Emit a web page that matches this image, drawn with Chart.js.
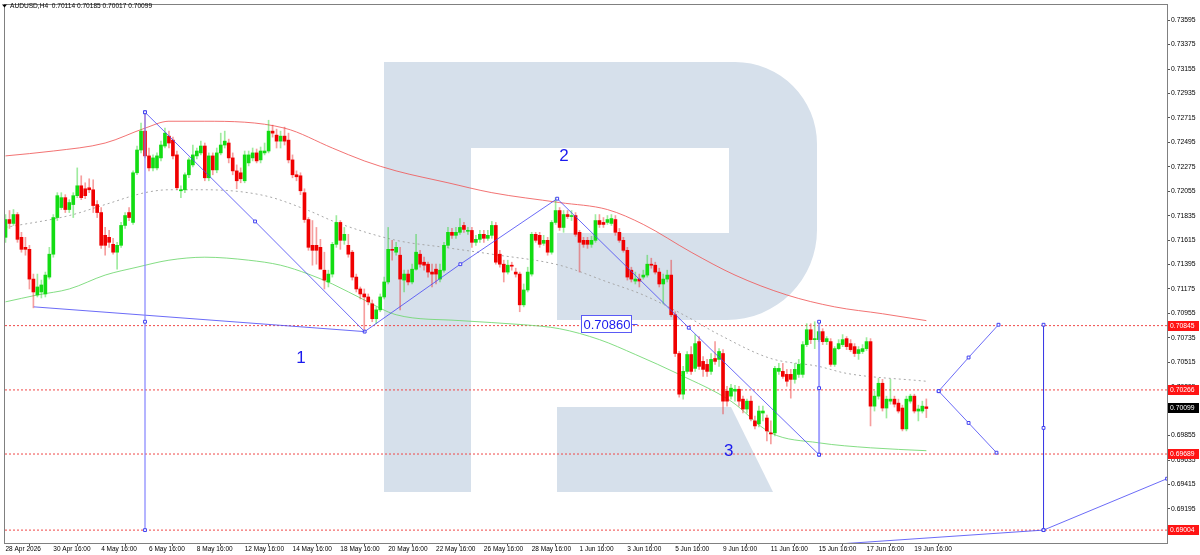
<!DOCTYPE html>
<html>
<head>
<meta charset="utf-8">
<script src="https://cdn.jsdelivr.net/npm/chart.js@4.4.1/dist/chart.umd.min.js"></script>
<style>
html,body{margin:0;padding:0;background:#fff;overflow:hidden}
canvas{display:block}
</style>
</head>
<body>
<canvas id="chart" width="1200" height="555"></canvas>
<script>
// AUDUSD H4, one entry per bar (bar 0 = 28 Apr 2026)
var candleO = [
0.71640,0.71800,0.71765,0.71845,0.71640,0.71550,0.71532,0.71264,0.71121,0.71148,
0.71130,0.71282,0.71488,0.71818,0.71908,0.71997,0.71890,0.71935,0.72015,0.72104,
0.72077,0.72086,0.72068,0.71935,0.71863,0.71658,0.71640,0.71577,0.71506,0.71568,
0.71747,0.71863,0.71774,0.72221,0.72426,0.72596,0.72373,0.72265,0.72265,0.72355,
0.72462,0.72551,0.72515,0.72382,0.72059,0.72068,0.72203,0.72292,0.72373,0.72400,
0.72462,0.72176,0.72373,0.72247,0.72400,0.72471,0.72489,0.72355,0.72238,0.72221,
0.72149,0.72310,0.72355,0.72400,0.72337,0.72400,0.72417,0.72596,0.72560,0.72506,
0.72551,0.72515,0.72337,0.72203,0.72194,0.72042,0.71800,0.71568,0.71568,0.71550,
0.71344,0.71238,0.71309,0.71577,0.71774,0.71613,0.71568,0.71506,0.71282,0.71175,
0.71130,0.71103,0.71041,0.70907,0.70987,0.71103,0.71238,0.71532,0.71506,0.71479,
0.71255,0.71309,0.71238,0.71353,0.71488,0.71416,0.71398,0.71327,0.71353,0.71264,
0.71344,0.71568,0.71685,0.71658,0.71685,0.71747,0.71694,0.71702,0.71595,0.71622,
0.71667,0.71631,0.71658,0.71747,0.71488,0.71398,0.71327,0.71389,0.71327,0.71309,
0.71032,0.71166,0.71309,0.71667,0.71658,0.71586,0.71613,0.71506,0.71774,0.71881,
0.71729,0.71845,0.71827,0.71836,0.71685,0.71613,0.71613,0.71577,0.71613,0.71791,
0.71774,0.71774,0.71765,0.71800,0.71685,0.71613,0.71523,0.71344,0.71246,0.71264,
0.71282,0.71300,0.71398,0.71389,0.71327,0.71220,0.71264,0.71300,0.70943,0.70594,
0.70228,0.70433,0.70585,0.70460,0.70701,0.70523,0.70496,0.70433,0.70549,0.70541,
0.70594,0.70255,0.70210,0.70255,0.70272,0.70183,0.70094,0.70165,0.69987,0.69960,
0.70058,0.70013,0.69879,0.69879,0.70433,0.70433,0.70406,0.70406,0.70361,0.70406,
0.70406,0.70674,0.70808,0.70719,0.70719,0.70791,0.70701,0.70701,0.70496,0.70638,
0.70674,0.70728,0.70683,0.70656,0.70594,0.70612,0.70638,0.70701,0.70120,0.70210,
0.70326,0.70103,0.70165,0.70183,0.70147,0.70103,0.69915,0.70165,0.70210,0.70076,
0.70076,0.70114
];
var candleH = [
0.71845,0.71881,0.71890,0.71863,0.71685,0.71640,0.71568,0.71309,0.71309,0.71255,
0.71327,0.71550,0.71845,0.72042,0.72042,0.72024,0.71979,0.72042,0.72265,0.72194,
0.72131,0.72167,0.72158,0.71970,0.71908,0.71729,0.71702,0.71631,0.71595,0.71774,
0.71863,0.71908,0.72238,0.72462,0.72668,0.72757,0.72444,0.72382,0.72400,0.72506,
0.72623,0.72596,0.72542,0.72417,0.72104,0.72221,0.72355,0.72471,0.72444,0.72506,
0.72489,0.72400,0.72400,0.72444,0.72578,0.72596,0.72524,0.72400,0.72292,0.72265,
0.72417,0.72417,0.72444,0.72435,0.72453,0.72489,0.72694,0.72650,0.72614,0.72596,
0.72632,0.72578,0.72382,0.72238,0.72221,0.72077,0.71818,0.71791,0.71729,0.71622,
0.71506,0.71344,0.71595,0.71836,0.71791,0.71729,0.71667,0.71523,0.71309,0.71193,
0.71175,0.71130,0.71076,0.71014,0.71130,0.71282,0.71729,0.71613,0.71595,0.71550,
0.71344,0.71344,0.71398,0.71667,0.71523,0.71461,0.71416,0.71398,0.71398,0.71398,
0.71595,0.71729,0.71720,0.71729,0.71809,0.71774,0.71729,0.71729,0.71658,0.71702,
0.71702,0.71702,0.71783,0.71774,0.71523,0.71434,0.71434,0.71416,0.71362,0.71327,
0.71220,0.71371,0.71685,0.71685,0.71685,0.71658,0.71640,0.71791,0.71997,0.71908,
0.71881,0.71881,0.71881,0.71863,0.71702,0.71640,0.71640,0.71649,0.71845,0.71845,
0.71818,0.71836,0.71845,0.71836,0.71720,0.71640,0.71550,0.71371,0.71327,0.71309,
0.71344,0.71479,0.71452,0.71416,0.71362,0.71309,0.71344,0.71434,0.70970,0.70612,
0.70478,0.70612,0.70656,0.70764,0.70746,0.70567,0.70541,0.70594,0.70701,0.70638,
0.70629,0.70299,0.70317,0.70308,0.70299,0.70210,0.70183,0.70210,0.70031,0.70120,
0.70120,0.70040,0.69987,0.70478,0.70505,0.70505,0.70451,0.70451,0.70505,0.70541,
0.70701,0.70862,0.70862,0.70880,0.70836,0.70817,0.70746,0.70728,0.70656,0.70719,
0.70764,0.70746,0.70719,0.70683,0.70656,0.70674,0.70737,0.70728,0.70255,0.70370,
0.70361,0.70210,0.70361,0.70210,0.70183,0.70129,0.70210,0.70228,0.70228,0.70129,
0.70165,0.70185
];
var candleL = [
0.71595,0.71720,0.71747,0.71595,0.71506,0.71479,0.71175,0.71005,0.71103,0.71094,
0.71103,0.71264,0.71461,0.71791,0.71890,0.71863,0.71863,0.71818,0.71997,0.71979,
0.71988,0.72042,0.71863,0.71818,0.71541,0.71479,0.71550,0.71488,0.71353,0.71550,
0.71720,0.71791,0.71756,0.72203,0.72400,0.72355,0.72238,0.72238,0.72247,0.72328,
0.72444,0.72444,0.72346,0.72068,0.71997,0.72042,0.72176,0.72274,0.72346,0.72382,
0.72149,0.72149,0.72203,0.72221,0.72382,0.72444,0.72310,0.72203,0.72077,0.72131,
0.72131,0.72283,0.72328,0.72310,0.72310,0.72382,0.72400,0.72542,0.72444,0.72444,
0.72471,0.72310,0.72176,0.72149,0.72024,0.71774,0.71523,0.71389,0.71398,0.71389,
0.71175,0.71193,0.71282,0.71550,0.71532,0.71577,0.71461,0.71255,0.71148,0.71085,
0.70791,0.71032,0.70880,0.70862,0.70970,0.71085,0.71220,0.71434,0.71479,0.70987,
0.71148,0.71211,0.71220,0.71344,0.71371,0.71344,0.71282,0.71193,0.71220,0.71238,
0.71327,0.71550,0.71631,0.71631,0.71667,0.71685,0.71667,0.71550,0.71568,0.71595,
0.71595,0.71613,0.71631,0.71398,0.71371,0.71238,0.71309,0.71344,0.71282,0.70970,
0.71014,0.71148,0.71291,0.71595,0.71550,0.71568,0.71479,0.71488,0.71756,0.71702,
0.71685,0.71809,0.71791,0.71649,0.71327,0.71550,0.71541,0.71550,0.71595,0.71729,
0.71729,0.71756,0.71747,0.71658,0.71595,0.71506,0.71255,0.71238,0.71220,0.71193,
0.71264,0.71282,0.71362,0.71309,0.71193,0.71041,0.71238,0.70925,0.70567,0.70201,
0.70183,0.70415,0.70406,0.70433,0.70451,0.70388,0.70388,0.70406,0.70496,0.70478,
0.70049,0.70120,0.70183,0.70165,0.70120,0.70058,0.70058,0.69987,0.69915,0.69933,
0.69987,0.69808,0.69781,0.69852,0.70406,0.70370,0.70299,0.70192,0.70326,0.70379,
0.70379,0.70656,0.70683,0.70638,0.70701,0.70674,0.70674,0.70478,0.70478,0.70629,
0.70656,0.70629,0.70612,0.70567,0.70541,0.70594,0.70621,0.69942,0.70076,0.70183,
0.70076,0.70013,0.70138,0.70112,0.70058,0.69897,0.69897,0.70147,0.70058,0.69987,
0.70058,0.70017
];
var candleC = [
0.71800,0.71765,0.71845,0.71622,0.71532,0.71532,0.71264,0.71148,0.71193,0.71211,
0.71300,0.71488,0.71818,0.72015,0.71997,0.71890,0.71953,0.72015,0.72104,0.71997,
0.72015,0.72068,0.71926,0.71863,0.71568,0.71568,0.71595,0.71506,0.71568,0.71747,
0.71836,0.71818,0.72221,0.72426,0.72596,0.72373,0.72265,0.72355,0.72373,0.72471,
0.72578,0.72489,0.72373,0.72086,0.72068,0.72203,0.72337,0.72382,0.72417,0.72462,
0.72176,0.72373,0.72247,0.72400,0.72471,0.72506,0.72355,0.72238,0.72149,0.72167,
0.72382,0.72382,0.72400,0.72328,0.72417,0.72417,0.72596,0.72578,0.72506,0.72551,
0.72506,0.72337,0.72203,0.72185,0.72059,0.71800,0.71550,0.71523,0.71523,0.71353,
0.71255,0.71309,0.71577,0.71774,0.71613,0.71667,0.71488,0.71282,0.71175,0.71130,
0.71103,0.71059,0.70907,0.70987,0.71103,0.71238,0.71532,0.71523,0.71550,0.71264,
0.71309,0.71238,0.71353,0.71506,0.71398,0.71389,0.71327,0.71309,0.71309,0.71344,
0.71568,0.71685,0.71658,0.71685,0.71729,0.71711,0.71702,0.71595,0.71622,0.71667,
0.71631,0.71658,0.71747,0.71416,0.71398,0.71327,0.71389,0.71380,0.71309,0.71032,
0.71166,0.71327,0.71667,0.71613,0.71577,0.71613,0.71506,0.71774,0.71881,0.71729,
0.71845,0.71827,0.71836,0.71667,0.71595,0.71577,0.71577,0.71613,0.71791,0.71756,
0.71756,0.71800,0.71809,0.71685,0.71613,0.71523,0.71282,0.71264,0.71264,0.71246,
0.71300,0.71398,0.71389,0.71327,0.71220,0.71264,0.71300,0.70943,0.70594,0.70228,
0.70433,0.70585,0.70433,0.70683,0.70478,0.70451,0.70433,0.70541,0.70523,0.70612,
0.70165,0.70165,0.70282,0.70272,0.70165,0.70094,0.70165,0.70004,0.69942,0.70076,
0.70076,0.69897,0.69870,0.70460,0.70460,0.70388,0.70344,0.70361,0.70451,0.70496,
0.70674,0.70808,0.70719,0.70728,0.70791,0.70701,0.70728,0.70496,0.70638,0.70683,
0.70719,0.70656,0.70629,0.70594,0.70629,0.70638,0.70701,0.70120,0.70210,0.70326,
0.70103,0.70183,0.70183,0.70138,0.70076,0.69915,0.70183,0.70210,0.70076,0.70094,
0.70120,0.70099
];

// moving averages, read at a few bars
var redMaBars = [0,12,25,35,41,50,70,82,90,98,111,122,139,151,160,172,183,196,208,220,231];
var redMaVals = [0.72373,0.72417,0.72489,0.72623,0.72685,0.72685,0.72623,0.72444,0.72328,0.72238,0.72131,0.72042,0.71953,0.71890,0.71756,0.71506,0.71300,0.71121,0.71014,0.70952,0.70890];
var midMaBars = [0,16,25,35,41,50,65,76,83,98,110,122,139,151,160,171,179,192,204,211,231];
var midMaVals = [0.71729,0.71836,0.71935,0.72042,0.72068,0.72068,0.72015,0.71881,0.71774,0.71613,0.71550,0.71488,0.71389,0.71238,0.71121,0.70925,0.70764,0.70549,0.70478,0.70415,0.70344];
var greenMaBars = [0,8,16,25,33,41,50,61,69,76,82,90,98,114,130,139,149,158,169,182,192,204,217,231];
var greenMaVals = [0.71059,0.71121,0.71175,0.71300,0.71371,0.71434,0.71461,0.71434,0.71389,0.71309,0.71220,0.71076,0.70943,0.70890,0.70853,0.70817,0.70719,0.70585,0.70406,0.70165,0.69879,0.69790,0.69745,0.69719];

// wave markup
var waveBars = [35,62.6,90.1,114.1,138.4,171.4,204.1];
var wavePrices = [0.72766,0.71783,0.70791,0.71398,0.71988,0.70826,0.69683];
var baseBars = [7.1,90.1];
var basePrices = [0.71014,0.70791];
var vert1Bars = [35,35,35];
var vert1Prices = [0.72766,0.70880,0.69004];
var vert2Bars = [204.1,204.1,204.1];
var vert2Prices = [0.69683,0.70282,0.70880];
var projUpBars = [234.1,241.6,249.1];
var projUpPrices = [0.70255,0.70558,0.70853];
var projDnBars = [234.1,241.6,248.6];
var projDnPrices = [0.70255,0.69969,0.69701];
var vert3Bars = [260.4,260.4,260.4];
var vert3Prices = [0.70853,0.69924,0.69004];
var lowBars = [197.1,260.4,291.4];
var lowPrices = [0.68850,0.69004,0.69467];
var waveLabels = ['1','2','3'];
var waveLabelBars = [74.1,140.1,181.4];
var waveLabelPrices = [0.70549,0.72373,0.69710];
var boxText = '0.70860';
var boxBar = 144.4;
var boxPrice = 0.70860;

// levels and axis
var levelPrices = [0.70845,0.70266,0.69689,0.69004];
var lastPrice = 0.70099;
var titleText = 'AUDUSD,H4  0.70114 0.70185 0.70017 0.70099';
var xTickBars = [0,12,24,36,48,60,72,84,96,108,120,132,144,156,168,180,192,204,216,228];
var xTickLabels = ['28 Apr 2026','30 Apr 16:00','4 May 16:00','6 May 16:00','8 May 16:00','12 May 16:00','14 May 16:00','18 May 16:00','20 May 16:00','22 May 16:00','26 May 16:00','28 May 16:00','1 Jun 16:00','3 Jun 16:00','5 Jun 16:00','9 Jun 16:00','11 Jun 16:00','15 Jun 16:00','17 Jun 16:00','19 Jun 16:00'];
var yTicks = [0.73595,0.73375,0.73155,0.72935,0.72715,0.72495,0.72275,0.72055,0.71835,0.71615,0.71395,0.71175,0.70955,0.70735,0.70515,0.70295,0.70075,0.69855,0.69635,0.69415,0.69195,0.68975];

var X_MIN = -0.125, X_MAX = 291.375;
var FONT = '"Liberation Sans", Arial, sans-serif';

function pts(xs, ys) {
	return xs.map(function(x, i){ return {x: x, y: ys[i]}; });
}

var wickData = [], bodyData = [], wickColors = [], bodyColors = [];
for (var i = 0; i < candleO.length; i++) {
	var up = candleC[i] >= candleO[i];
	wickData.push({x: i, y: [candleL[i], candleH[i]]});
	bodyData.push({x: i, y: [candleO[i], candleC[i]]});
	wickColors.push(up ? 'rgba(40,210,40,0.45)' : 'rgba(235,40,40,0.45)');
	bodyColors.push(up ? '#12dc12' : '#f00000');
}

function lineSet(data, color, width, opts) {
	var d = {
		type: 'line', data: data, borderColor: color, borderWidth: width,
		pointRadius: 0, fill: false, order: 5
	};
	for (var k in opts) d[k] = opts[k];
	return d;
}

var WAVE = 'rgba(70,70,245,0.8)';
var marker = {pointStyle: 'rect', pointRadius: 2, pointBackgroundColor: '#ffffff', pointBorderColor: '#4040f0', pointBorderWidth: 1, order: 1};

var datasets = [];
levelPrices.forEach(function(p){
	datasets.push(lineSet([{x: X_MIN, y: p}, {x: X_MAX, y: p}], '#f04848', 1, {borderDash: [2, 2], order: 7}));
});
datasets.push(lineSet(pts(redMaBars, redMaVals), 'rgba(240,90,90,0.85)', 1, {cubicInterpolationMode: 'monotone', order: 6}));
datasets.push(lineSet(pts(midMaBars, midMaVals), '#a8a8a8', 1, {cubicInterpolationMode: 'monotone', borderDash: [2, 3], order: 6}));
datasets.push(lineSet(pts(greenMaBars, greenMaVals), 'rgba(110,215,110,0.85)', 1, {cubicInterpolationMode: 'monotone', order: 6}));
datasets.push({type: 'bar', data: wickData, backgroundColor: wickColors, barThickness: 1, grouped: false, order: 4});
datasets.push({type: 'bar', data: bodyData, backgroundColor: bodyColors, barThickness: 3, grouped: false, minBarLength: 1, order: 3});
datasets.push(lineSet(pts(vert1Bars, vert1Prices), 'rgba(130,130,255,0.6)', 2, marker));
datasets.push(lineSet(pts(vert2Bars, vert2Prices), 'rgba(130,130,255,0.75)', 2, marker));
datasets.push(lineSet(pts(baseBars, basePrices), WAVE, 1, {order: 1}));
datasets.push(lineSet(pts(waveBars, wavePrices), WAVE, 1, marker));
datasets.push(lineSet(pts(projUpBars, projUpPrices), WAVE, 1, marker));
datasets.push(lineSet(pts(projDnBars, projDnPrices), WAVE, 1, marker));
datasets.push(lineSet(pts(vert3Bars, vert3Prices), 'rgba(60,60,230,0.85)', 1, marker));
datasets.push(lineSet(pts(lowBars, lowPrices), WAVE, 1, marker));

var overlay = {
	id: 'overlay',
	beforeDatasetsDraw: function(chart) {
		// faint logo watermark behind the candles
		var ctx = chart.ctx, a = chart.chartArea;
		ctx.save();
		ctx.beginPath();
		ctx.rect(a.left, a.top, a.right - a.left, a.bottom - a.top);
		ctx.clip();
		ctx.fillStyle = '#d6e0eb';
		ctx.fillRect(384, 62, 87, 430);
		ctx.beginPath();
		ctx.moveTo(471, 62);
		ctx.arcTo(817, 62, 817, 320, 82);
		ctx.arcTo(817, 320, 557, 320, 90);
		ctx.lineTo(557, 320);
		ctx.lineTo(557, 233);
		ctx.lineTo(729, 233);
		ctx.lineTo(729, 148);
		ctx.lineTo(471, 148);
		ctx.closePath();
		ctx.fill();
		ctx.beginPath();
		ctx.moveTo(557, 407);
		ctx.lineTo(731, 407);
		ctx.lineTo(773, 492);
		ctx.lineTo(557, 492);
		ctx.closePath();
		ctx.fill();
		ctx.restore();
	},
	afterDatasetsDraw: function(chart) {
		var ctx = chart.ctx, xs = chart.scales.x, ys = chart.scales.y;
		ctx.save();
		ctx.fillStyle = '#1a1aee';
		ctx.font = '17px ' + FONT;
		ctx.textAlign = 'center';
		ctx.textBaseline = 'middle';
		waveLabels.forEach(function(t, i){
			ctx.fillText(t, xs.getPixelForValue(waveLabelBars[i]), ys.getPixelForValue(waveLabelPrices[i]));
		});
		var bx = Math.round(xs.getPixelForValue(boxBar)) + 0.5;
		var by = Math.round(ys.getPixelForValue(boxPrice));
		ctx.fillStyle = '#ffffff';
		ctx.fillRect(bx, by - 8, 50, 17);
		ctx.strokeStyle = '#5a5af5';
		ctx.lineWidth = 1;
		ctx.strokeRect(bx, by - 8.5, 50, 17);
		ctx.beginPath();
		ctx.moveTo(bx + 50, by + 0.5);
		ctx.lineTo(bx + 56, by + 0.5);
		ctx.stroke();
		ctx.fillStyle = '#1a1aee';
		ctx.font = '13px ' + FONT;
		ctx.textAlign = 'left';
		ctx.fillText(boxText, bx + 2, by + 1);
		ctx.restore();
	},
	afterDraw: function(chart) {
		var ctx = chart.ctx, a = chart.chartArea, ys = chart.scales.y;
		ctx.save();
		ctx.strokeStyle = '#808080';
		ctx.lineWidth = 1;
		ctx.strokeRect(a.left - 0.5, a.top - 0.5, a.right - a.left + 1, a.bottom - a.top + 1);
		ctx.font = '6.8px ' + FONT;
		ctx.textBaseline = 'middle';
		ctx.textAlign = 'left';
		levelPrices.concat([lastPrice]).forEach(function(p, i){
			var y = Math.round(ys.getPixelForValue(p));
			ctx.fillStyle = i < levelPrices.length ? '#ff1414' : '#000000';
			ctx.fillRect(a.right + 1, y - 5, 31, 10);
			ctx.fillStyle = '#ffffff';
			ctx.fillText(p.toFixed(5), a.right + 3, y + 0.5);
		});
		ctx.fillStyle = '#000000';
		ctx.beginPath();
		ctx.moveTo(2, 4.5);
		ctx.lineTo(7, 4.5);
		ctx.lineTo(4.5, 7.5);
		ctx.closePath();
		ctx.fill();
		ctx.font = '6.6px ' + FONT;
		ctx.fillText(titleText, 10, 6.5);
		ctx.restore();
	}
};

Chart.defaults.font.family = FONT;
Chart.defaults.color = '#000';

new Chart(document.getElementById('chart').getContext('2d'), {
	type: 'bar',
	data: {datasets: datasets},
	options: {
		responsive: false,
		animation: false,
		devicePixelRatio: 1,
		layout: {padding: {left: 1, top: 1, right: 0, bottom: 0}},
		plugins: {legend: {display: false}, tooltip: {enabled: false}},
		scales: {
			x: {
				type: 'linear', position: 'bottom', min: X_MIN, max: X_MAX, offset: false,
				border: {display: false},
				grid: {display: true, drawOnChartArea: false, drawTicks: true, tickLength: 3, color: '#555'},
				ticks: {
					autoSkip: false, maxRotation: 0, align: 'start', padding: -1,
					font: {size: 6.5}, color: '#000',
					callback: function(v, idx){ return xTickLabels[idx]; }
				},
				afterBuildTicks: function(s){ s.ticks = xTickBars.map(function(v){ return {value: v}; }); },
				afterFit: function(s){ s.height = 12; s.paddingLeft = 0; s.paddingRight = 0; }
			},
			y: {
				type: 'linear', position: 'right', min: 0.688879, max: 0.737316,
				border: {display: false},
				grid: {display: true, drawOnChartArea: false, drawTicks: true, tickLength: 3, color: '#555'},
				ticks: {
					autoSkip: false, padding: 1, font: {size: 6.8}, color: '#000',
					callback: function(v){ return v.toFixed(5); }
				},
				afterBuildTicks: function(s){ s.ticks = yTicks.map(function(v){ return {value: v}; }); },
				afterFit: function(s){ s.width = 33; s.paddingTop = 0; s.paddingBottom = 0; }
			}
		}
	},
	plugins: [overlay]
});
</script>
</body>
</html>
